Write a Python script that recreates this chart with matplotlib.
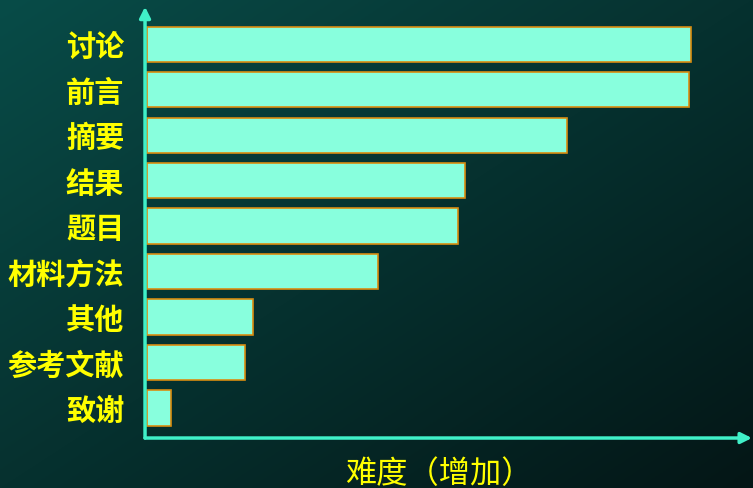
import numpy as np
import matplotlib.pyplot as plt

plt.rcParams['font.family'] = ['Noto Sans CJK SC', 'DejaVu Sans']

# 各部分难度（相对值，从上到下）
sections = ['讨论', '前言', '摘要', '结果', '题目', '材料方法', '其他', '参考文献', '致谢']
difficulty = [90.5, 90.3, 70.0, 53.0, 51.8, 38.4, 17.6, 16.3, 4.0]
xlabel_text = '难度（增加）'

fig = plt.figure(figsize=(7.53, 4.89), dpi=100)

# 背景渐变（左上偏青，右下偏黑）
bg = fig.add_axes([0, 0, 1, 1], zorder=-1)
gx, gy = np.meshgrid(np.linspace(0, 1, 200), np.linspace(0, 1, 200))
t = np.clip((gx + gy) / 2, 0, 1)
c0 = np.array([8, 76, 72]) / 255
c1 = np.array([4, 22, 22]) / 255
img = c0[None, None, :] * (1 - t[..., None]) + c1[None, None, :] * t[..., None]
bg.imshow(img, aspect='auto', extent=[0, 1, 0, 1], origin='upper')
bg.axis('off')

ax = fig.add_axes([0.1926, 0.1022, 0.806, 0.882])
ax.set_facecolor('none')
pos = np.arange(len(sections))
ax.barh(pos + 0.02, difficulty, height=0.77, color='#88ffdd', edgecolor='#d98c10', linewidth=1.2, left=0.3)
ax.set_xlim(0, 101)
ax.set_ylim(8.68, -0.80)
ax.set_yticks(pos)
ax.set_yticklabels(sections, color='#ffff00', fontsize=21, fontweight='bold')
ax.tick_params(axis='y', length=0, pad=15)
ax.set_xticks([])
for s in ax.spines.values():
    s.set_visible(False)

axis_col = '#40f0c8'
ax.annotate('', xy=(0, 1.0), xytext=(0, 0), xycoords='axes fraction',
            arrowprops=dict(arrowstyle='-|>', color=axis_col, lw=2.5, mutation_scale=16,
                            shrinkA=0, shrinkB=0))
ax.annotate('', xy=(1.0, 0), xytext=(0, 0), xycoords='axes fraction',
            arrowprops=dict(arrowstyle='-|>', color=axis_col, lw=2.5, mutation_scale=16,
                            shrinkA=0, shrinkB=0))

fig.text(345 / 753, 1 - 458 / 489, xlabel_text, color='#ffff00', fontsize=22.5, va='top', ha='left')

fig.savefig('out.png', dpi=100)
